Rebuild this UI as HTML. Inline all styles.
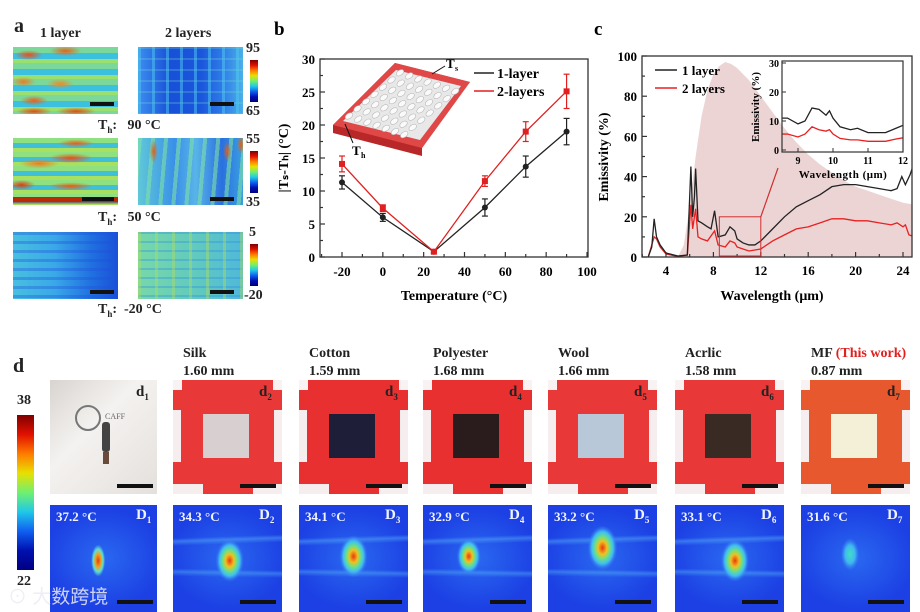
<!DOCTYPE html>
<html><head><meta charset="utf-8">
<style>
html,body{margin:0;padding:0;background:#fff;}
body{width:920px;height:612px;position:relative;overflow:hidden;font-family:"Liberation Serif",serif;font-weight:bold;color:#222;}
.abs{position:absolute;}
.lbl{position:absolute;font-size:14px;}
.panel-letter{position:absolute;font-size:19px;font-weight:bold;}
.hm{position:absolute;width:105px;height:67px;}
.sb{position:absolute;height:4px;background:#111;}
.photo{position:absolute;width:109px;height:114px;background:#f6f0f0;overflow:hidden;}
.therm{position:absolute;width:109px;height:107px;background:#1f45e6;overflow:hidden;}
.jet{background:linear-gradient(to bottom,#7f0000,#e01000,#ff7a00,#e8e000,#70f070,#20c8e8,#1060f0,#0010b0,#000080);}
</style></head>
<body>

<!-- Panel a -->
<div class="panel-letter" style="left:14px;top:15px;font-size:20px">a</div>
<div class="lbl" style="left:40px;top:26px;font-size:14px">1 layer</div>
<div class="lbl" style="left:165px;top:26px;font-size:14px">2 layers</div>

<div class="hm" style="left:13px;top:47px;background:
 radial-gradient(ellipse 14px 5px at 15% 12%,#e8501a,transparent),
 radial-gradient(ellipse 16px 5px at 50% 6%,#e8601a,transparent),
 radial-gradient(ellipse 12px 5px at 10% 52%,#f07a20,transparent),
 radial-gradient(ellipse 14px 5px at 45% 55%,#f08a20,transparent),
 radial-gradient(ellipse 14px 5px at 20% 80%,#e8601a,transparent),
 radial-gradient(ellipse 20px 4px at 60% 96%,#e84a10,transparent),
 radial-gradient(ellipse 18px 4px at 20% 96%,#e84a10,transparent),
 repeating-linear-gradient(180deg,#7ad89a 0 6px,#3cc0e0 6px 12px,#9ae070 12px 16px)"></div>
<div class="hm" style="left:138px;top:47px;background:
 repeating-linear-gradient(90deg,rgba(80,200,240,.5) 0 3px,transparent 3px 14px),
 repeating-linear-gradient(180deg,rgba(120,220,200,.25) 0 2px,transparent 2px 11px),
 linear-gradient(90deg,#3c8ef0,#1850d8 30%,#1a56dc 60%,#2e7ae8 80%,#4ab0e8)"></div>
<div class="hm" style="left:13px;top:138px;background:
 radial-gradient(ellipse 18px 4px at 60% 8%,#e8601a,transparent),
 radial-gradient(ellipse 20px 5px at 25% 38%,#f07a20,transparent),
 radial-gradient(ellipse 22px 5px at 55% 30%,#e8501a,transparent),
 radial-gradient(ellipse 14px 5px at 8% 70%,#d84010,transparent),
 radial-gradient(ellipse 22px 4px at 55% 72%,#e86010,transparent),
 linear-gradient(180deg,transparent 88%,#b82a08 88% 96%,transparent 96%),
 repeating-linear-gradient(180deg,#8ee080 0 5px,#40c0d8 5px 10px,#a8e060 10px 14px)"></div>
<div class="hm" style="left:138px;top:138px;background:
 radial-gradient(ellipse 4px 12px at 15% 20%,#e06018,transparent),
 radial-gradient(ellipse 4px 10px at 85% 20%,#e06018,transparent),
 radial-gradient(ellipse 4px 10px at 98% 10%,#e06018,transparent),
 repeating-linear-gradient(95deg,rgba(130,230,160,.55) 0 4px,transparent 4px 13px),
 linear-gradient(90deg,#60c8d8,#3a90e8 35%,#58b4e8 55%,#2a70e0 80%,#3aa0e0)"></div>
<div class="hm" style="left:13px;top:232px;background:
 repeating-linear-gradient(180deg,rgba(30,80,220,.35) 0 3px,transparent 3px 9px),
 linear-gradient(90deg,#48c0e0,#3aa8e8 40%,#2070e0 75%,#1a50d8)"></div>
<div class="hm" style="left:138px;top:232px;background:
 repeating-linear-gradient(90deg,rgba(170,220,100,.45) 0 3px,transparent 3px 17px),
 repeating-linear-gradient(180deg,rgba(40,140,230,.35) 0 2px,transparent 2px 9px),
 linear-gradient(90deg,#78d8a8,#60c8c0 60%,#50b8d8)"></div>

<div class="sb" style="left:90px;top:102px;width:24px"></div>
<div class="sb" style="left:210px;top:102px;width:24px"></div>
<div class="sb" style="left:82px;top:197px;width:32px"></div>
<div class="sb" style="left:210px;top:197px;width:24px"></div>
<div class="sb" style="left:90px;top:290px;width:24px"></div>
<div class="sb" style="left:210px;top:290px;width:24px"></div>

<div class="abs jet" style="left:250px;top:60px;width:8px;height:42px"></div>
<div class="lbl" style="left:246px;top:41px">95</div>
<div class="lbl" style="left:246px;top:104px">65</div>
<div class="abs jet" style="left:250px;top:151px;width:8px;height:42px"></div>
<div class="lbl" style="left:246px;top:132px">55</div>
<div class="lbl" style="left:246px;top:195px">35</div>
<div class="abs jet" style="left:250px;top:244px;width:8px;height:42px"></div>
<div class="lbl" style="left:249px;top:225px">5</div>
<div class="lbl" style="left:244px;top:288px">-20</div>

<div class="lbl" style="left:98px;top:118px">T<sub style="font-size:9px">h</sub>:&nbsp;&nbsp; 90 °C</div>
<div class="lbl" style="left:98px;top:210px">T<sub style="font-size:9px">h</sub>:&nbsp;&nbsp; 50 °C</div>
<div class="lbl" style="left:98px;top:302px">T<sub style="font-size:9px">h</sub>:&nbsp; -20 °C</div>

<!-- Panel b & c chart SVG -->
<svg class="abs" style="left:0;top:0" width="920" height="330" font-family="Liberation Serif, serif" font-weight="bold">
 <text x="274" y="35" font-size="19">b</text>
 <text x="594" y="35" font-size="19">c</text>
 <g id="gb"></g>
 <g id="gc"></g>
</svg>

<!-- Panel d -->
<div class="panel-letter" style="left:13px;top:355px;font-size:20px">d</div>
<div class="abs jet" style="left:17px;top:415px;width:17px;height:155px"></div>
<div class="lbl" style="left:17px;top:393px">38</div>
<div class="lbl" style="left:17px;top:574px">22</div>

<div id="dwrap"></div>

<div class="abs" style="left:8px;top:582px;font-family:'Liberation Sans','Noto Sans CJK SC',sans-serif;font-size:19px;font-weight:normal;color:rgba(235,235,245,.85)">⊙ 大数跨境</div>

<script>
const NS="http://www.w3.org/2000/svg";
function mk(parent,tag,attrs,text){const e=document.createElementNS(NS,tag);for(const k in attrs)e.setAttribute(k,attrs[k]);if(text!==undefined)e.textContent=text;parent.appendChild(e);return e;}

/* ---------- Panel b data ---------- */
const bTemps=[-20,0,25,50,70,90];
const bOneLayer=[11.3,6.0,0.8,7.5,13.7,19.0];
const bOneErr=[1.0,0.6,0.2,1.3,1.6,2.0];
const bTwoLayers=[14.1,7.4,0.8,11.5,19.0,25.1];
const bTwoErr=[1.2,0.5,0.2,0.8,1.5,2.6];
const bXTicks=[-20,0,20,40,60,80,100];
const bYTicks=[0,5,10,15,20,25,30];

/* ---------- Panel c data ---------- */
const cWave1=[2.5,2.8,3.0,3.2,3.5,4,5,5.8,6.0,6.1,6.25,6.4,6.5,6.7,7,7.5,7.8,8.1,8.4,9,9.4,9.8,10,10.5,11,11.5,12,13,14,15,16,17,18,19,20,21,22,23,23.5,23.9,24.2,24.6,25];
const cOneLayer=[0,5,19,10,6,2,0.5,1,30,45,20,30,44,18,17,15,14,23,10,11,15,13,9,7,6,6,8,14,20,25,28,31,35,36,36,35,34,33,34,40,36,41,48];
const cWave2=[2.5,3.0,3.2,3.5,4,5,5.8,6.1,6.25,6.5,6.7,7,7.5,8.1,8.4,9,9.4,9.8,10,10.5,11,12,13,14,15,16,17,18,19,20,21,22,23,23.5,24,24.2,24.5,25];
const cTwoLayers=[0,10,9,5,1.5,0.3,1,26,14,24,10,9,8,13,6,5,8,7,5,4,3,4,8,11,14,15,17,19,19,18,18,17,16,17,15,16,11,10];
const cBodyWave=[5,5.5,6,6.5,7,7.5,8,8.5,9,9.5,10,11,12,13,14,15,16,17,18,19,20,21,22,23,24,25];
const cBodyVal=[0,6,25,50,70,83,91,95,97,96,94,88,80,72,64,57,51,46,42,38,35,33,31,29,27,26];
const cXTicks=[4,8,12,16,20,24];
const cYTicks=[0,20,40,60,80,100];
const insWave=[8.5,8.7,9,9.2,9.4,9.6,9.8,9.9,10,10.2,10.5,10.7,11,11.5,11.8,12];
const insOne=[11,11,9,10,14.5,14,12,13.5,11,8,7,7.5,6,6,7.5,8.5];
const insTwo=[5.5,5.5,4.5,5.5,8,7,6.5,7,5.5,4,3.5,3.5,3,3,3.8,4.2];
const insXTicks=[9,10,11,12];
const insYTicks=[0,10,20,30];

/* ---------- Panel b ---------- */
(function(){
 const g=document.getElementById('gb');
 const L=320,R=588,T=59,B=257;
 const xs=v=>342+(v+20)*(587-342)/120;
 const ys=v=>257-v*(257-59)/30;
 const ill=mk(g,'g',{});
 
 
 mk(ill,'polygon',{points:"333,125 395,63 470,82 422,148 422,156 333,133",fill:"#b82828"});
 mk(ill,'polygon',{points:"333,125 395,63 470,82 422,148",fill:"#e04848"});
 mk(ill,'polygon',{points:"343,121 396,70 461,86 420,140",fill:"#e8e8e8"});
 for(let i=0;i<7;i++)for(let j=0;j<7;j++){
   const px=345+i*8.5+j*9.2, py=119-i*7.2+j*3.1;
   mk(ill,'ellipse',{cx:px+4,cy:py-3,rx:4.2,ry:2.6,fill:"#fafafa",stroke:"#b8b8b8","stroke-width":0.6,transform:`rotate(-35 ${px+4} ${py-3})`});
 }
 mk(ill,'line',{x1:432,y1:74,x2:445,y2:66,stroke:"#111","stroke-width":1});
 mk(ill,'text',{x:446,y:68,"font-size":13},"T");
 mk(ill,'text',{x:455,y:71,"font-size":8},"s");
 mk(ill,'line',{x1:345,y1:124,x2:353,y2:143,stroke:"#111","stroke-width":1});
 mk(ill,'text',{x:352,y:155,"font-size":13},"T");
 mk(ill,'text',{x:361,y:158,"font-size":8},"h");
 const fr=mk(g,'rect',{x:L,y:T,width:R-L,height:B-T,fill:"none",stroke:"#333","stroke-width":1.3});
 
 
 for(let v=-30;v<=100;v+=10){const x=xs(v);if(x<L||x>R)continue;const major=bXTicks.includes(v);mk(g,'line',{x1:x,y1:B,x2:x,y2:B-(major?5:3),stroke:"#333","stroke-width":1.2});}
 bXTicks.forEach(v=>{const t=mk(g,'text',{x:xs(v),y:B+19,"font-size":13,"text-anchor":"middle"},String(v));});
 for(let v=0;v<=30;v+=2.5){const major=v%5===0;mk(g,'line',{x1:L,y1:ys(v),x2:L+(major?5:3),y2:ys(v),stroke:"#333","stroke-width":1.2});}
 bYTicks.forEach(v=>{const t=mk(g,'text',{x:L-5,y:ys(v)+5,"font-size":13,"text-anchor":"end"},String(v));});
 const xt=mk(g,'text',{x:454,y:300,"font-size":14,"text-anchor":"middle"},"Temperature (°C)");
 
 const yt=mk(g,'text',{x:0,y:0,"font-size":14,"text-anchor":"middle",transform:"translate(288,158) rotate(-90)"},"|T\u209B-T\u2095| (°C)");
 
 function series(vals,errs,color,name){
   const s=mk(g,'g',{});
   
   
   mk(s,'polyline',{points:bTemps.map((t,i)=>xs(t)+","+ys(vals[i])).join(" "),fill:"none",stroke:color,"stroke-width":1.3});
   bTemps.forEach((t,i)=>{
     const x=xs(t);
     mk(s,'line',{x1:x,y1:ys(vals[i]-errs[i]),x2:x,y2:ys(vals[i]+errs[i]),stroke:color,"stroke-width":1.2});
     mk(s,'line',{x1:x-3,y1:ys(vals[i]-errs[i]),x2:x+3,y2:ys(vals[i]-errs[i]),stroke:color,"stroke-width":1.2});
     mk(s,'line',{x1:x-3,y1:ys(vals[i]+errs[i]),x2:x+3,y2:ys(vals[i]+errs[i]),stroke:color,"stroke-width":1.2});
     const m=mk(s,color==="#e02020"?'rect':'circle',color==="#e02020"?{x:x-3,y:ys(vals[i])-3,width:6,height:6,fill:color}:{cx:x,cy:ys(vals[i]),r:3,fill:color});
     
     
   });
 }
 series(bOneLayer,bOneErr,"#222","series-1-layer");
 series(bTwoLayers,bTwoErr,"#e02020","series-2-layers");
 mk(g,'line',{x1:474,y1:73,x2:494,y2:73,stroke:"#222","stroke-width":1.5});
 const l1=mk(g,'text',{x:497,y:78,"font-size":14},"1-layer");
 mk(g,'line',{x1:474,y1:91,x2:494,y2:91,stroke:"#e02020","stroke-width":1.5});
 const l2=mk(g,'text',{x:497,y:96,"font-size":14},"2-layers");
})();

/* ---------- Panel c ---------- */
(function(){
 const g=document.getElementById('gc');
 const L=642,R=912,T=56,B=257;
 const xs=v=>666+(v-4)*11.85;
 const ys=v=>257-v*2.01;
 const clip=mk(g,'clipPath',{id:'cclip'});mk(clip,'rect',{x:L,y:T,width:R-L,height:B-T});
 const body=mk(g,'polygon',{points:[xs(cBodyWave[0])+","+ys(0)].concat(cBodyWave.map((w,i)=>xs(w)+","+ys(cBodyVal[i]))).concat([xs(cBodyWave[cBodyWave.length-1])+","+ys(0)]).join(" "),fill:"#ecd4d4","clip-path":"url(#cclip)"});
 
 const s2=mk(g,'polyline',{points:cWave2.map((w,i)=>xs(w)+","+ys(cTwoLayers[i])).join(" "),fill:"none",stroke:"#e82020","stroke-width":1.3,"clip-path":"url(#cclip)"});
 
 const s1=mk(g,'polyline',{points:cWave1.map((w,i)=>xs(w)+","+ys(cOneLayer[i])).join(" "),fill:"none",stroke:"#222","stroke-width":1.3,"clip-path":"url(#cclip)"});
 
 const fr=mk(g,'rect',{x:L,y:T,width:R-L,height:B-T,fill:"none",stroke:"#333","stroke-width":1.3});
 
 for(let v=2;v<=25;v+=2){const x=xs(v);if(x<L||x>R)continue;const major=cXTicks.includes(v);mk(g,'line',{x1:x,y1:B,x2:x,y2:B-(major?5:3),stroke:"#333","stroke-width":1.2});}
 cXTicks.forEach(v=>{const t=mk(g,'text',{x:xs(v),y:B+18,"font-size":13,"text-anchor":"middle"},String(v));});
 for(let v=0;v<=100;v+=10){const major=v%20===0;mk(g,'line',{x1:L,y1:ys(v),x2:L+(major?5:3),y2:ys(v),stroke:"#333","stroke-width":1.2});}
 cYTicks.forEach(v=>{const t=mk(g,'text',{x:L-5,y:ys(v)+5,"font-size":13,"text-anchor":"end"},String(v));});
 const xt=mk(g,'text',{x:772,y:300,"font-size":14,"text-anchor":"middle"},"Wavelength (μm)");
 
 const yt=mk(g,'text',{x:0,y:0,"font-size":14,"text-anchor":"middle",transform:"translate(608,157) rotate(-90)"},"Emissivity (%)");
 
 const zb=mk(g,'rect',{x:xs(8.5),y:ys(20),width:xs(12)-xs(8.5),height:ys(0.5)-ys(20),fill:"none",stroke:"#d03030","stroke-width":1});
 
 mk(g,'line',{x1:xs(12),y1:ys(20),x2:778,y2:168,stroke:"#d03030","stroke-width":1.2});
 mk(g,'line',{x1:655,y1:70,x2:677,y2:70,stroke:"#222","stroke-width":1.5});
 const l1=mk(g,'text',{x:682,y:75,"font-size":13},"1 layer");
 mk(g,'line',{x1:655,y1:88,x2:677,y2:88,stroke:"#e82020","stroke-width":1.5});
 const l2=mk(g,'text',{x:682,y:93,"font-size":13},"2 layers");
 const iL=782,iR=903,iT=61,iB=152;
 const ix=v=>798+(v-9)*35;
 const iy=v=>150-v*2.9;
 const ic=mk(g,'clipPath',{id:'iclip'});mk(ic,'rect',{x:iL,y:iT,width:iR-iL,height:iB-iT});
 const i2=mk(g,'polyline',{points:insWave.map((w,i)=>ix(w)+","+iy(insTwo[i])).join(" "),fill:"none",stroke:"#e82020","stroke-width":1.3,"clip-path":"url(#iclip)"});
 
 const i1=mk(g,'polyline',{points:insWave.map((w,i)=>ix(w)+","+iy(insOne[i])).join(" "),fill:"none",stroke:"#222","stroke-width":1.3,"clip-path":"url(#iclip)"});
 
 const ifr=mk(g,'rect',{x:iL,y:iT,width:iR-iL,height:iB-iT,fill:"none",stroke:"#333","stroke-width":1.2});
 
 insXTicks.forEach(v=>{mk(g,'line',{x1:ix(v),y1:iB,x2:ix(v),y2:iB-4,stroke:"#333"});const t=mk(g,'text',{x:ix(v),y:iB+12,"font-size":10,"text-anchor":"middle"},String(v));});
 insYTicks.forEach(v=>{mk(g,'line',{x1:iL,y1:iy(v),x2:iL+4,y2:iy(v),stroke:"#333"});const t=mk(g,'text',{x:iL-3,y:iy(v)+4,"font-size":10,"text-anchor":"end"},String(v));});
 const ixt=mk(g,'text',{x:843,y:178,"font-size":11,"text-anchor":"middle","letter-spacing":"0.5"},"Wavelength (μm)");
 
 const iyt=mk(g,'text',{x:0,y:0,"font-size":11,"text-anchor":"middle",transform:"translate(759,107) rotate(-90)"},"Emissivity (%)");
 
})();

/* ---------- Panel d ---------- */
(function(){
 const wrap=document.getElementById('dwrap');
 const xsPos=[50,173,299,423,548,675,801];
 const names=["","Silk","Cotton","Polyester","Wool","Acrlic","MF"];
 const thick=["","1.60 mm","1.59 mm","1.68 mm","1.66 mm","1.58 mm","0.87 mm"];
 const temps=["37.2 °C","34.3 °C","34.1 °C","32.9 °C","33.2 °C","33.1 °C","31.6 °C"];
 const sample=["","#d8d0d0","#1e1e38","#2a1c1c","#b8c8d8","#3a2a24","#f4f0d8"];
 const tape=["","#e83838","#e83030","#e83030","#e83838","#e83838","#e8582e"];
 const blob=[[45,52,0.7],[52,52,1],[50,48,1],[42,48,0.85],[50,40,1.05],[55,52,1],[45,46,0.7]];
 let html="";
 for(let i=0;i<7;i++){
   const x=xsPos[i];
   if(i>0){
     html+=`<div class="lbl" style="left:${x+10}px;top:346px">${names[i]}${i===6?' <span style="color:#e02020">(This work)</span>':''}</div>`;
     html+=`<div class="lbl" style="left:${x+10}px;top:364px">${thick[i]}</div>`;
     html+=`<div class="photo" style="left:${x}px;top:380px">
       <div class="abs" style="left:0;top:0;width:109px;height:114px;background:${tape[i]}"></div>
       <div class="abs" style="left:0;top:0;width:9px;height:10px;background:#f8f2f2"></div>
       <div class="abs" style="left:100px;top:0;width:9px;height:10px;background:#f8f2f2"></div>
       <div class="abs" style="left:0;top:30px;width:8px;height:52px;background:#f6eeee"></div>
       <div class="abs" style="left:101px;top:30px;width:8px;height:52px;background:#f6eeee"></div>
       <div class="abs" style="left:0;top:104px;width:30px;height:10px;background:#f6eeee"></div>
       <div class="abs" style="left:80px;top:104px;width:29px;height:10px;background:#f6eeee"></div>
       <div class="abs" style="left:30px;top:34px;width:46px;height:44px;background:${sample[i]}"></div>
     </div>`;
   } else {
     html+=`<div class="photo" style="left:${x}px;top:380px;width:107px;background:linear-gradient(135deg,#d8d4d0,#f4f2f0 40%,#e4e0dc)">
       <div class="abs" style="left:25px;top:25px;width:22px;height:22px;border:2px solid #777;border-radius:50%"></div>
       <div class="abs" style="left:55px;top:32px;font-size:8px;font-weight:normal;color:#666">CAFF</div>
       <div class="abs" style="left:52px;top:42px;width:8px;height:30px;background:#444;border-radius:3px"></div>
       <div class="abs" style="left:53px;top:72px;width:6px;height:12px;background:#6a4a3a"></div>
     </div>`;
   }
   html+=`<div class="abs" style="left:${x+86}px;top:384px;font-size:15px">d<sub style="font-size:9px">${i+1}</sub></div>`;
   html+=`<div class="sb" style="left:${x+67}px;top:484px;width:36px"></div>`;
   const b=blob[i];
   const core=i===0?`radial-gradient(ellipse 7px 16px at ${b[0]}% ${b[1]}%,#e04010,#f0a020 40%,#60e0d0 70%,transparent)`:
     i===6?`radial-gradient(ellipse 9px 16px at ${b[0]}% ${b[1]}%,#40e0c0,#40b8f0 55%,rgba(60,150,240,.5) 80%,transparent)`:
     `radial-gradient(ellipse ${14*b[2]}px ${21*b[2]}px at ${b[0]}% ${b[1]}%,#e83a10,#f0c020 30%,#70e080 50%,#40c0f0 72%,rgba(60,140,240,.5) 88%,transparent)`;
   const streak=(i===0||i===6)?'':`linear-gradient(178deg,transparent 30%,rgba(90,180,250,.45) 33%,transparent 37%),linear-gradient(181deg,transparent 60%,rgba(90,190,250,.4) 63%,transparent 67%),`;
   html+=`<div class="therm" style="left:${x}px;top:505px;width:${i===0?107:109}px;background:${core},${streak}radial-gradient(ellipse 60px 50px at 50% 50%,#2a68f0,#1c40e4)">
     <div class="abs" style="left:6px;top:4px;font-size:13px;color:#f0f4ff">${temps[i]}</div>
     <div class="abs" style="left:86px;top:2px;font-size:15px;color:#f0f4ff">D<sub style="font-size:9px">${i+1}</sub></div>
     <div class="sb" style="left:67px;top:95px;width:36px"></div>
   </div>`;
 }
 wrap.innerHTML=html;
})();
</script>
</body></html>
